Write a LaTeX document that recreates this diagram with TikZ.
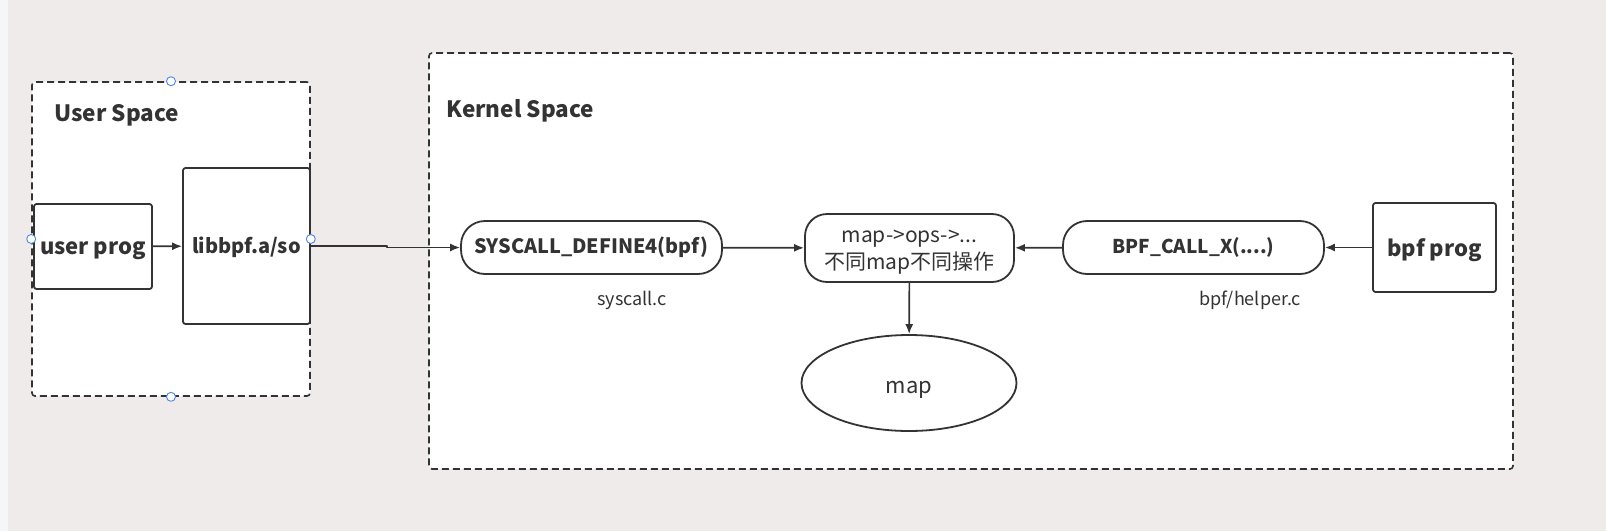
\documentclass[tikz,border=0pt]{standalone}
\usepackage{fontspec}
\setmainfont{Noto Sans CJK SC}
\usetikzlibrary{arrows.meta,shapes.geometric}
\definecolor{ink}{HTML}{333333}
\definecolor{paper}{HTML}{EFEBEA}
\definecolor{strip}{HTML}{F5F6F8}
\definecolor{handle}{HTML}{4A86E8}

\begin{document}
\begin{tikzpicture}[x=1pt,y=-1pt,text=ink,>={Latex[length=10pt,width=8pt]},line join=round,
  region/.style={draw=ink,line width=1.6pt,dash pattern=on 7pt off 4pt,fill=white,rounded corners=3pt,inner sep=0pt},
  block/.style={draw=ink,line width=1.8pt,fill=white,rounded corners=2.5pt,inner sep=0pt},
  pill/.style={block,rounded corners=24pt},
  flow/.style={draw=ink,line width=1.7pt,->},
  note/.style={font=\fontsize{18}{20}\selectfont},
  title/.style={anchor=west,font=\fontsize{22.5}{26}\selectfont\bfseries},
  grip/.style={draw=handle,fill=white,line width=0.9pt}]
  % Canvas.
  \fill[paper] (0,0) rectangle (1606,531);
  \fill[strip] (0,0) rectangle (8,531);
  \useasboundingbox (0,0) rectangle (1606,531);

  % User space.
  \node[region,minimum width=278pt,minimum height=314pt] (user) at (171,239) {};
  \node[title] (usertitle) at (51,115) {User Space};
  \node[block,minimum width=118pt,minimum height=85pt,
    label={[font=\fontsize{22}{26}\selectfont\bfseries,yshift=-4pt]center:user prog}]
    (userprog) at (93,246.5) {};
  \node[block,minimum width=127pt,minimum height=156pt,
    label={[font=\fontsize{20}{24}\selectfont\bfseries,yshift=-1pt]center:libbpf.a/so}]
    (libbpf) at (246.5,246) {};
  \draw[flow] (userprog) -- (libbpf);

  % Kernel space.
  \node[region,minimum width=1084pt,minimum height=416pt] (kernel) at (971,261) {};
  \node[title] (kerneltitle) at (443,111) {Kernel Space};
  \node[pill,minimum width=261pt,minimum height=53pt,font=\fontsize{19.8}{23}\selectfont\bfseries]
    (syscall) at (591.5,247.5) {SYSCALL\_DEFINE4(bpf)};
  \node[pill,minimum width=209pt,minimum height=68pt,rounded corners=22pt,
    label={[font=\fontsize{21}{27}\selectfont,align=center,yshift=-4.5pt]center:map->ops->...\\不同map不同操作}]
    (mapops) at (909.5,248) {};
  \node[pill,minimum width=261pt,minimum height=53pt,font=\fontsize{19}{22}\selectfont\bfseries]
    (bpfcall) at (1193.5,247.5) {BPF\_CALL\_X(....)};
  \node[block,minimum width=123pt,minimum height=89pt,
    label={[font=\fontsize{22}{26}\selectfont\bfseries,yshift=-3pt]center:bpf prog}]
    (bpfprog) at (1434.5,247.5) {};
  \node[ellipse,draw=ink,line width=1.8pt,fill=white,minimum width=215pt,minimum height=96pt,
    label={[font=\fontsize{22}{26}\selectfont,yshift=-7pt]center:map}] (map) at (909,383) {};
  \node[note] (syscallfile) at (632,300) {syscall.c};
  \node[note] (helperfile) at (1250,300) {bpf/helper.c};

  % Calls.
  \draw[flow] (libbpf.east) -- ++(76,0) |- (syscall.west);
  \draw[flow] (syscall) -- (mapops);
  \draw[flow] (bpfcall) -- (mapops);
  \draw[flow] (bpfprog) -- (bpfcall);
  \draw[flow] (mapops) -- (map);

  % Selection handles.
  \draw[grip] (user.north) circle (4.5);
  \draw[grip] (user.south) circle (4.5);
  \draw[grip] (user.west) circle (4.5);
  \draw[grip] (user.east) circle (4.5);
\end{tikzpicture}
\end{document}
